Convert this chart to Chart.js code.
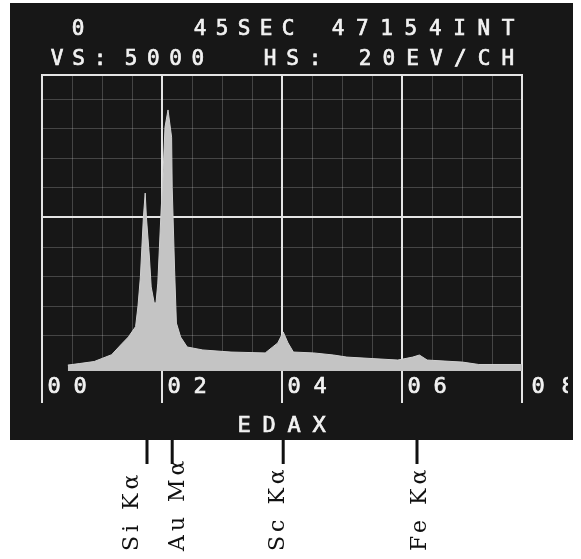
<!DOCTYPE html>
<html><head><meta charset="utf-8">
<script src="https://cdn.jsdelivr.net/npm/chart.js@4"></script>
<style>html,body{margin:0;padding:0;background:#fff}canvas{display:block}</style>
</head><body>
<canvas id="c" width="581" height="559"></canvas>
<script>
// Spectrum: energy (keV) and counts (screen units, VS 5000)
const energyKeV = [0.43,0.62,0.87,1.16,1.33,1.44,1.56,1.60,1.64,1.69,1.72,1.74,1.79,1.82,1.87,1.90,1.93,1.98,2.02,2.05,2.10,2.16,2.17,2.21,2.24,2.31,2.42,2.68,3.15,3.72,3.93,4.02,4.10,4.19,4.53,4.86,5.08,5.93,6.18,6.29,6.42,7.01,7.28,7.97,8.0];
const counts    = [0.0, 0.05,0.12,0.35,0.72,0.95,1.30,2.00,2.98,5.00,5.81,5.00,3.65,2.64,2.10,2.10,2.77,5.00,6.60,8.04,8.62,7.70,6.00,3.21,1.42,0.95,0.61,0.51,0.44,0.41,0.75,1.12,0.75,0.44,0.41,0.34,0.27,0.17,0.27,0.34,0.17,0.10,0.02,0.02,0.02];

const majorTicks = [0,2,4,6,8];
const tickLabels = ["00","02","04","06","08"];
const minorTicksX = [0.5,1,1.5,2.5,3,3.5,4.5,5,5.5,6.5,7,7.5];
const gridY = [1,2,3,4,6,7,8,9];
const midLineY = 5;

const header1 = ["0", "45SEC", "47154INT"];
const header2 = ["VS:", "5000", "HS:", "20EV/CH"];
const footerLabel = "EDAX";

const markerEnergies = [1.75, 2.17, 4.02, 6.25];
const markerLabels = ["Si Kα","Au Mα","Sc Kα","Fe Kα"];

function drawChars(ctx, str, x0, pitch, y) {
  for (let i = 0; i < str.length; i++) {
    ctx.fillText(str[i], x0 + i * pitch, y);
    ctx.strokeText(str[i], x0 + i * pitch, y);
  }
}

const screenPlugin = {
  id: 'screen',
  beforeDraw(chart) {
    const ctx = chart.ctx;
    ctx.save();
    ctx.fillStyle = '#ffffff'; ctx.fillRect(0, 0, chart.width, chart.height);
    ctx.fillStyle = '#171717'; ctx.fillRect(10, 3, 563, 437);
    const xs = chart.scales.x, ys = chart.scales.y, a = chart.chartArea;
    ctx.strokeStyle = 'rgba(255,255,255,0.20)'; ctx.lineWidth = 1;
    ctx.beginPath();
    minorTicksX.forEach(v => { const p = Math.round(xs.getPixelForValue(v)) + 0.5; ctx.moveTo(p, a.top); ctx.lineTo(p, a.bottom); });
    gridY.forEach(v => { const p = Math.round(ys.getPixelForValue(v)) + 0.5; ctx.moveTo(a.left, p); ctx.lineTo(a.right, p); });
    ctx.stroke();
    ctx.strokeStyle = '#e4e4e4'; ctx.lineWidth = 2;
    ctx.beginPath();
    majorTicks.forEach(v => { const p = xs.getPixelForValue(v); ctx.moveTo(p, a.top - 1); ctx.lineTo(p, 403); });
    const pm = ys.getPixelForValue(midLineY);
    ctx.moveTo(a.left, pm); ctx.lineTo(a.right, pm);
    ctx.moveTo(a.left - 1, a.top); ctx.lineTo(a.right + 1, a.top);
    ctx.stroke();
    ctx.restore();
  },
  afterDraw(chart) {
    const ctx = chart.ctx;
    const xs = chart.scales.x;
    ctx.save();
    ctx.beginPath(); ctx.rect(10, 3, 558, 437); ctx.clip();
    ctx.fillStyle = '#f2f2f2';
    ctx.strokeStyle = '#f2f2f2';
    ctx.lineWidth = 0.7;
    ctx.font = '21px "DejaVu Sans Mono"';
    ctx.textAlign = 'center'; ctx.textBaseline = 'middle';
    drawChars(ctx, header1[0], 78, 22, 30);
    drawChars(ctx, header1[1], 200, 22, 30);
    drawChars(ctx, header1[2], 338, 24.3, 30);
    drawChars(ctx, header2[0], 57, 21.5, 60);
    drawChars(ctx, header2[1], 131, 22.3, 60);
    drawChars(ctx, header2[2], 270, 22.5, 60);
    drawChars(ctx, header2[3], 365, 23.8, 60);
    ctx.font = '22px "DejaVu Sans Mono"';
    majorTicks.forEach((v, i) => {
      const p = xs.getPixelForValue(v);
      const off = i === majorTicks.length - 1 ? 16 : 12;
      const pitch = i === majorTicks.length - 1 ? 30 : 26;
      drawChars(ctx, tickLabels[i], p + off, pitch, 387);
    });
    drawChars(ctx, footerLabel, 244, 25, 426);
    ctx.restore();

    // element markers below the screen
    const dx = [-9, 12, 1, 9];
    ctx.save();
    ctx.fillStyle = '#111111';
    markerEnergies.forEach((e, i) => {
      const p = xs.getPixelForValue(e);
      ctx.fillRect(p - 1.5, 440, 3, 24);
      ctx.save();
      ctx.translate(p + dx[i], 551);
      ctx.rotate(-Math.PI / 2);
      ctx.font = '22px "DejaVu Serif"';
      ctx.letterSpacing = '4px';
      ctx.textAlign = 'left'; ctx.textBaseline = 'alphabetic';
      ctx.fillText(markerLabels[i], 0, 0);
      ctx.restore();
    });
    ctx.restore();
  }
};

new Chart(document.getElementById('c'), {
  type: 'line',
  data: {
    datasets: [{
      data: energyKeV.map((e, i) => ({ x: e, y: counts[i] })),
      fill: 'start',
      backgroundColor: '#c4c4c4',
      borderColor: '#d0d0d0',
      borderWidth: 1,
      pointRadius: 0,
      tension: 0
    }]
  },
  options: {
    responsive: false,
    animation: false,
    devicePixelRatio: 1,
    layout: { padding: { left: 42, right: 59, top: 75, bottom: 188 } },
    plugins: { legend: { display: false }, tooltip: { enabled: false } },
    scales: {
      x: { type: 'linear', min: 0, max: 8, display: false },
      y: { type: 'linear', min: -0.2, max: 9.8, display: false }
    }
  },
  plugins: [screenPlugin]
});
</script>
</body></html>
